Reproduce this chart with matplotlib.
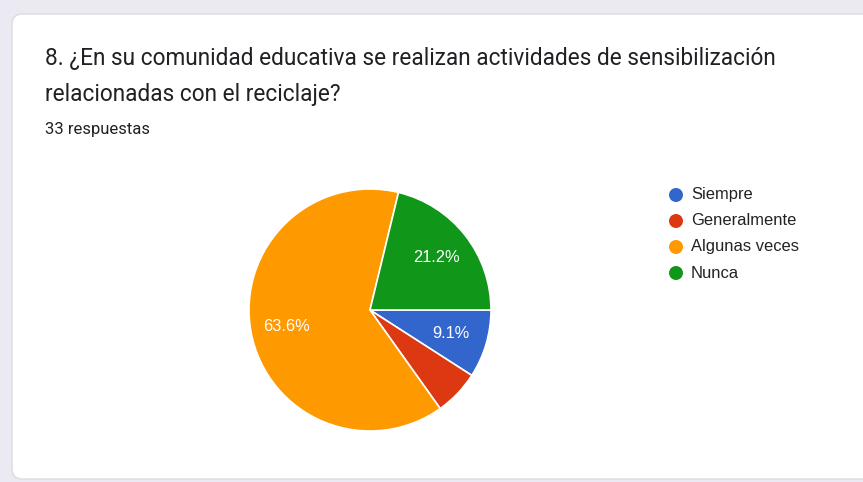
import matplotlib
matplotlib.use("Agg")
import matplotlib.pyplot as plt
from matplotlib.patches import FancyBboxPatch, Ellipse

categories = ["Siempre", "Generalmente", "Algunas veces", "Nunca"]
counts = [3, 2, 21, 7]
colors = ["#3366cc", "#dc3912", "#ff9900", "#109618"]
title_lines = ["8. ¿En su comunidad educativa se realizan actividades de sensibilización",
               "relacionadas con el reciclaje?"]
subtitle = "33 respuestas"

W, H = 863, 482
fig = plt.figure(figsize=(W / 100, H / 100), dpi=100)
fig.patch.set_facecolor("#ebeaf2")

def fx(x):
    return x / W

def fy(y):
    return 1 - y / H

# card
card = FancyBboxPatch((fx(12), fy(479)), fx(900 - 12), (479 - 14) / H,
                      boxstyle="round,pad=0,rounding_size=0.012",
                      transform=fig.transFigure, facecolor="white",
                      edgecolor="#dadce0", linewidth=1.0, mutation_aspect=W / H,
                      zorder=-5)
fig.patches.append(card)

plt.rcParams['font.family'] = ['Roboto', 'DejaVu Sans']

for i, line in enumerate(title_lines):
    fig.text(fx(45), fy(59 + i * 35), line, fontsize=16.3, color="#202124",
             va="center", ha="left")
fig.text(fx(45), fy(130), subtitle, fontsize=12, color="#202124",
         va="center", ha="left")

cx, cy, r = 370, 310, 121
ax = fig.add_axes([fx(cx - r), fy(cy + r), 2 * r / W, 2 * r / H])
ax.set_zorder(2)

def pct(p):
    return f"{p:.1f}%" if p >= 7 else ""

wedges, texts, autotexts = ax.pie(counts, colors=colors, startangle=0, counterclock=False,
                                  autopct=pct, pctdistance=0.7,
                                  wedgeprops=dict(edgecolor="white", linewidth=1.2),
                                  textprops=dict(color="white", fontsize=11.8,
                                                 family=['Liberation Sans', 'DejaVu Sans']))
ax.set_aspect("equal")
ax.set_xlim(-1, 1)
ax.set_ylim(-1, 1)
ax.axis("off")

# legend
lx, ly0, dy = 676, 195, 26
for i, (lab, col) in enumerate(zip(categories, colors)):
    y = ly0 + i * dy
    fig.patches.append(Ellipse((fx(lx), fy(y)), 14 / W, 14 / H, transform=fig.transFigure,
                               facecolor=col, edgecolor="none", zorder=3))
    fig.text(fx(691), fy(y), lab, fontsize=11.9, color="#222222", va="center", ha="left",
             family=['Liberation Sans', 'DejaVu Sans'])

fig.savefig("out.png", dpi=100, facecolor=fig.get_facecolor())
